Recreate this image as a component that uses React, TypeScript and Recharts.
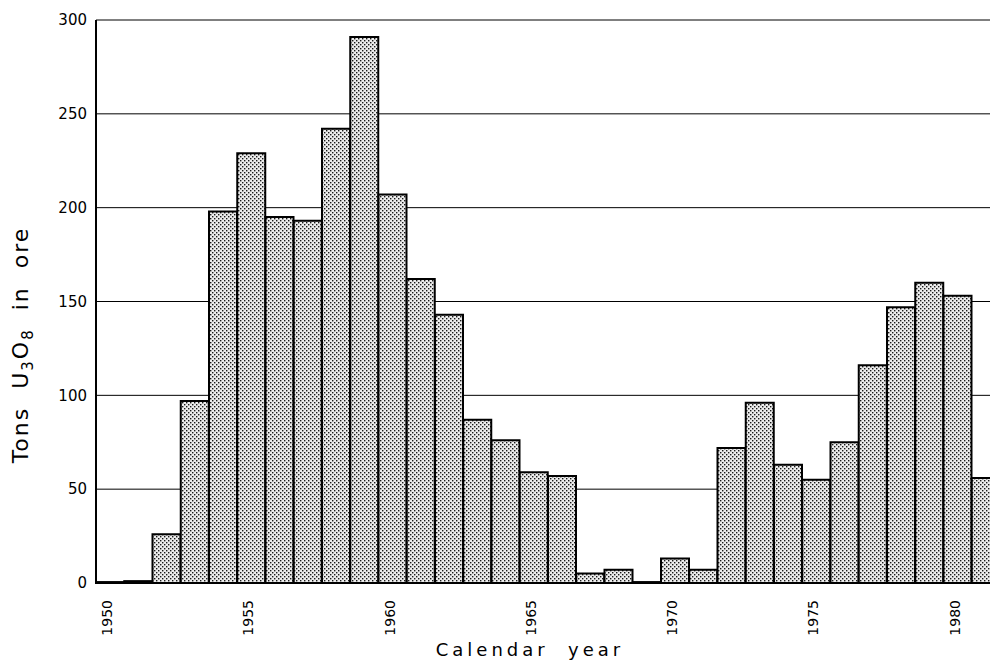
import { BarChart, Bar, XAxis, YAxis, CartesianGrid } from "recharts";

// Uranium ore production, tons U3O8, by calendar year
const years = [
  "1950", "1951", "1952", "1953", "1954", "1955", "1956", "1957",
  "1958", "1959", "1960", "1961", "1962", "1963", "1964", "1965",
  "1966", "1967", "1968", "1969", "1970", "1971", "1972", "1973",
  "1974", "1975", "1976", "1977", "1978", "1979", "1980", "1981",
];
const tons = [
  0.5, 1, 26, 97, 198, 229, 195, 193,
  242, 291, 207, 162, 143, 87, 76, 59,
  57, 5, 7, 0.5, 13, 7, 72, 96,
  63, 55, 75, 116, 147, 160, 153, 56,
];
const yTicks = [0, 50, 100, 150, 200, 250, 300];
const labelYears = ["1950", "1955", "1960", "1965", "1970", "1975", "1980"];

const data = years.map((year, i) => ({ year, tons: tons[i] }));

const FONT = "DejaVu Sans, sans-serif";

function YearTick(props: any) {
  const { x, y, payload } = props;
  if (!labelYears.includes(payload.value)) return null;
  return (
    <g transform={`translate(${x - 3},${y + 9})`}>
      <text
        transform="rotate(-90)"
        textAnchor="end"
        dy="0.36em"
        fontSize={14}
        fontFamily={FONT}
        fill="#000"
      >
        {payload.value}
      </text>
    </g>
  );
}

export default function App() {
  return (
    <div
      style={{
        position: "fixed",
        left: 0,
        top: 0,
        width: 990,
        height: 664,
        overflow: "hidden",
        background: "#fff",
      }}
    >
      <BarChart
        width={1000}
        height={664}
        data={data}
        margin={{ top: 20, right: 0, left: 0, bottom: 0 }}
        barCategoryGap={0}
        barGap={0}
      >
        <defs>
          <pattern id="dots" width="4" height="4" patternUnits="userSpaceOnUse">
            <rect width="4" height="4" fill="#ececec" />
            <rect x="0" y="0" width="1.4" height="1.4" fill="#1a1a1a" />
            <rect x="2" y="2" width="1.4" height="1.4" fill="#1a1a1a" />
          </pattern>
        </defs>
        <CartesianGrid vertical={false} stroke="#000" strokeWidth={1} />
        <XAxis
          dataKey="year"
          height={81}
          interval={0}
          tickLine={false}
          axisLine={{ stroke: "#000", strokeWidth: 2 }}
          tick={<YearTick />}
        />
        <YAxis
          width={96}
          domain={[0, 300]}
          ticks={yTicks}
          tickLine={false}
          tickSize={0}
          tickMargin={9}
          axisLine={{ stroke: "#000", strokeWidth: 2 }}
          tick={{ fill: "#000", fontSize: 15, fontFamily: FONT }}
        />
        <Bar
          dataKey="tons"
          fill="url(#dots)"
          stroke="#000"
          strokeWidth={2}
          isAnimationActive={false}
        />
      </BarChart>
      <svg
        width={990}
        height={664}
        style={{ position: "absolute", left: 0, top: 0, pointerEvents: "none" }}
      >
        <text
          transform="translate(28,345) rotate(-90)"
          textAnchor="middle"
          fontSize={22}
          fontFamily={FONT}
          letterSpacing={2}
          fill="#000"
          style={{ whiteSpace: "pre" }}
        >
          {"Tons  U"}
          <tspan dy={5} fontSize={15}>3</tspan>
          <tspan dy={-5}>O</tspan>
          <tspan dy={5} fontSize={15}>8</tspan>
          <tspan dy={-5}>{"  in  ore"}</tspan>
        </text>
        <text
          x={530}
          y={656}
          textAnchor="middle"
          fontSize={18}
          fontFamily={FONT}
          letterSpacing={4}
          fill="#000"
          style={{ whiteSpace: "pre" }}
        >
          {"Calendar  year"}
        </text>
      </svg>
    </div>
  );
}
